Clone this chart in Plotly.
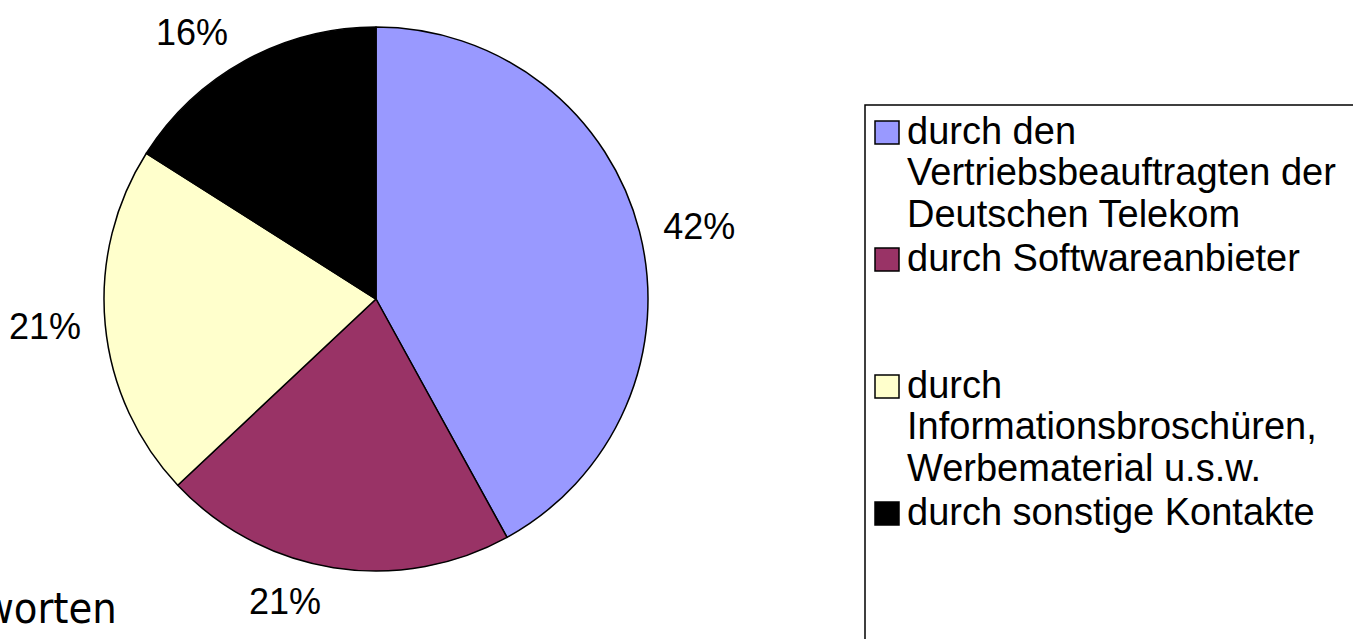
import plotly.graph_objects as go

# ---- data ----
labels = [
    "durch den<br>Vertriebsbeauftragten der<br>Deutschen Telekom",
    "durch Softwareanbieter",
    "durch<br>Informationsbroschüren,<br>Werbematerial u.s.w.",
    "durch sonstige Kontakte",
]
percents = [42, 21, 21, 16]
colors = ["#9999FF", "#993366", "#FFFFCC", "#000000"]
footnote = "Antworten"

W, H = 1353, 639


def px(x):
    return x / W


def py(y):
    return 1 - y / H


# pie geometry (pixels)
CX, CY, R = 376, 299, 272
RT = 286  # radius at which the outside percentage labels are anchored

font_main = "Liberation Sans, Arial, sans-serif"

# invisible companion pie that only carries the outside percentage labels
label_pie = go.Pie(
    labels=labels,
    values=percents,
    sort=False,
    direction="clockwise",
    rotation=0,
    marker=dict(colors=["rgba(0,0,0,0)"] * len(labels), line=dict(width=0)),
    textposition="outside",
    texttemplate="%{value}%",
    textfont=dict(family=font_main, size=36, color="#000000"),
    showlegend=False,
    hoverinfo="skip",
    domain=dict(x=[px(CX - RT), px(CX + RT)], y=[py(CY + RT), py(CY - RT)]),
)

pie = go.Pie(
    labels=labels,
    values=percents,
    sort=False,
    direction="clockwise",
    rotation=0,
    marker=dict(colors=colors, line=dict(color="#000000", width=1.5)),
    textinfo="none",
    showlegend=False,
    hoverinfo="label+percent",
    domain=dict(x=[px(CX - R), px(CX + R)], y=[py(CY + R), py(CY - R)]),
)

fig = go.Figure([label_pie, pie])

shapes = []
annotations = []

# legend frame (extends past the right and bottom edges)
shapes.append(dict(type="rect", xref="paper", yref="paper",
                   x0=px(865), x1=px(W + 20), y0=py(H + 20), y1=py(105),
                   line=dict(color="#000000", width=1.5), fillcolor="rgba(0,0,0,0)"))

LFS = 38
LINE = 41.5
STEP = 127
FIRST_BASE = 144
for i, (lab, col) in enumerate(zip(labels, colors)):
    base = FIRST_BASE + i * STEP
    shapes.append(dict(type="rect", xref="paper", yref="paper",
                       x0=px(875), x1=px(899), y0=py(base), y1=py(base - 23),
                       line=dict(color="#000000", width=1.5), fillcolor=col))
    for j, line in enumerate(lab.split("<br>")):
        b = base + j * LINE
        annotations.append(dict(
            text=line, xref="paper", yref="paper",
            x=px(905), y=py(b - 0.3465 * LFS),
            xanchor="left", yanchor="middle", showarrow=False,
            font=dict(family=font_main, size=LFS, color="#000000"),
        ))

annotations.append(dict(
    text=footnote, xref="paper", yref="paper",
    x=px(119), y=py(623 - 0.35 * 43),
    xanchor="right", yanchor="middle", showarrow=False,
    font=dict(family="DejaVu Sans Condensed, Liberation Sans Narrow, sans-serif", size=43, color="#000000"),
))

fig.update_layout(
    width=W, height=H,
    margin=dict(l=0, r=0, t=0, b=0),
    paper_bgcolor="#FFFFFF",
    plot_bgcolor="#FFFFFF",
    shapes=shapes,
    annotations=annotations,
)

fig.write_html(
    "out.html",
    config={"displayModeBar": False},
    post_script="document.body.style.margin='0px';document.body.style.overflow='hidden';",
)
